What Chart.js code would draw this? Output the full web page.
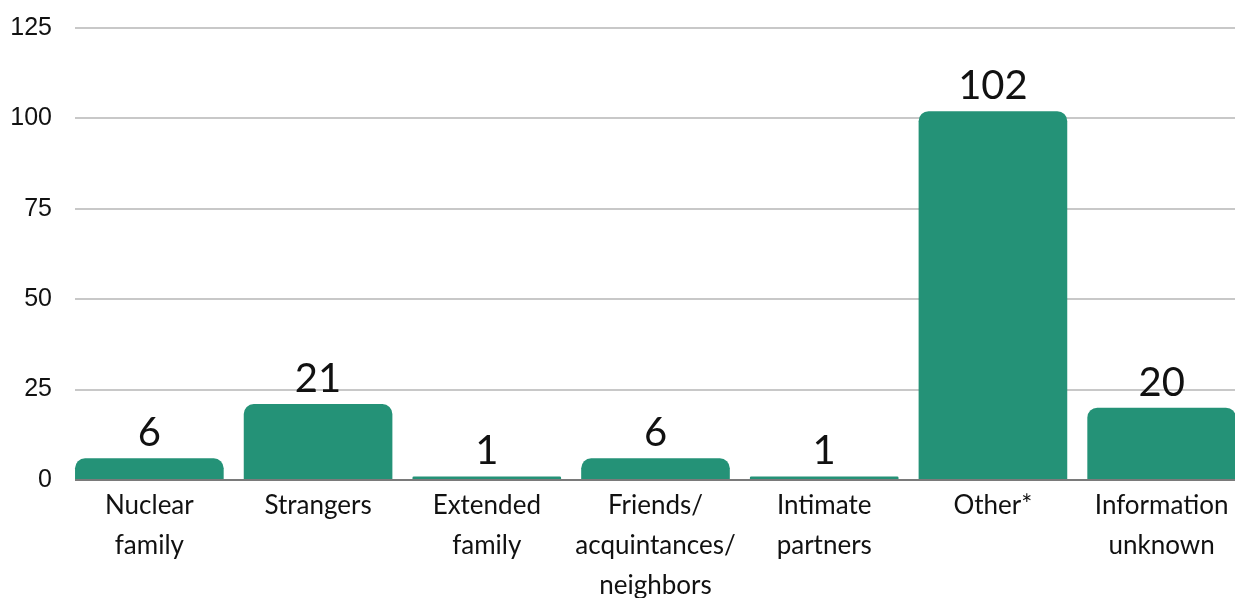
<!DOCTYPE html>
<html>
<head>
<meta charset="utf-8">
<script src="https://cdn.jsdelivr.net/npm/chart.js@4/dist/chart.umd.min.js"></script>
<style>
html,body{margin:0;padding:0;overflow:hidden;background:#fff;width:1235px;height:598px;}
canvas{display:block;}
</style>
</head>
<body>
<canvas id="c" width="1246" height="598" style="width:1246px;height:598px"></canvas>
<script>
const categories = [
  ["Nuclear", "family"],
  ["Strangers"],
  ["Extended", "family"],
  ["Friends/", "acquintances/", "neighbors"],
  ["Intimate", "partners"],
  ["Other*"],
  ["Information", "unknown"]
];
const values = [6, 21, 1, 6, 1, 102, 20];
const yTicks = [0, 25, 50, 75, 100, 125];

const barColor = '#249277';

const coverPlugin = {
  id: 'cover',
  beforeDatasetsDraw(chart) {
    const ctx = chart.ctx, a = chart.chartArea;
    ctx.save();
    ctx.fillStyle = '#fff';
    ctx.fillRect(a.left - 1, 0, 11, a.bottom + 2);
    ctx.restore();
  }
};

const labelPlugin = {
  id: 'valueLabels',
  afterDatasetsDraw(chart) {
    const ctx = chart.ctx;
    const meta = chart.getDatasetMeta(0);
    ctx.save();
    ctx.font = '400 40px Lato, "Noto Sans", sans-serif';
    ctx.fillStyle = '#111';
    ctx.textAlign = 'center';
    ctx.textBaseline = 'alphabetic';
    meta.data.forEach((el, i) => {
      ctx.fillText(String(values[i]), el.x, el.y - 12);
    });
    ctx.restore();
  }
};

new Chart(document.getElementById('c'), {
  type: 'bar',
  data: {
    labels: categories,
    datasets: [{
      data: values,
      backgroundColor: barColor,
      borderRadius: {topLeft: 10, topRight: 10, bottomLeft: 0, bottomRight: 0},
      borderSkipped: 'start',
      barPercentage: 0.881,
      categoryPercentage: 1.0
    }]
  },
  options: {
    responsive: false,
    animation: false,
    devicePixelRatio: 1,
    layout: {padding: {top: 28, left: 0, right: 0, bottom: 0}},
    plugins: {legend: {display: false}, tooltip: {enabled: false}},
    scales: {
      x: {
        offset: true,
        grid: {display: false, drawTicks: false},
        border: {display: true, color: '#7a7a7a', width: 2},
        ticks: {
          color: '#111',
          font: {family: 'Lato, "Noto Sans", sans-serif', size: 26, lineHeight: 1.53},
          padding: 6,
          maxRotation: 0,
          autoSkip: false
        },
        afterFit(s) { s.height = 118; }
      },
      y: {
        min: 0,
        max: 125,
        afterBuildTicks(s) { s.ticks = yTicks.map(v => ({value: v})); },
        grid: {color: '#c8c8c8', lineWidth: 2, drawTicks: false},
        border: {display: false},
        ticks: {
          color: '#111',
          font: {family: '"Liberation Sans", Arial, sans-serif', size: 25},
          padding: 13
        },
        afterFit(s) { s.width = 65; }
      }
    }
  },
  plugins: [coverPlugin, labelPlugin]
});
</script>
</body>
</html>
